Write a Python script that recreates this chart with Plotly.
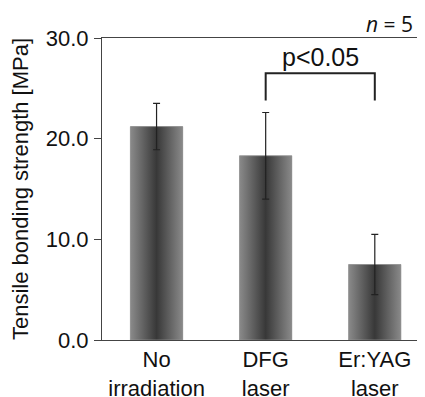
import plotly.graph_objects as go

categories = ["No<br>irradiation", "DFG<br>laser", "Er:YAG<br>laser"]
means = [21.2, 18.3, 7.5]
errors = [2.3, 4.3, 3.0]
y_ticks = [0, 10, 20, 30]
y_tick_labels = ["0.0", "10.0", "20.0", "30.0"]
compare_pair = (1, 2)
p_label = "p<0.05"
n_label = "<i>n</i> = 5"
y_title = "Tensile bonding strength [MPa]"

BAR_W = 0.48
FONT = "Liberation Sans, Arial, sans-serif"
xpos = list(range(len(categories)))

fig = go.Figure()

# base bars
fig.add_trace(go.Bar(x=xpos, y=means, width=BAR_W, marker=dict(color="#5a5a5a", line=dict(width=0)),
                     showlegend=False, hoverinfo="skip"))

# gradient overlay built from the data values
for i, m in zip(xpos, means):
    xs = [i - BAR_W / 2, i + BAR_W / 2, i + BAR_W / 2, i - BAR_W / 2, i - BAR_W / 2]
    ys = [0, 0, m, m, 0]
    fig.add_trace(go.Scatter(
        x=xs, y=ys, mode="lines", fill="toself",
        line=dict(width=0.6, color="#9a9a9a"),
        fillgradient=dict(type="horizontal",
                          colorscale=[[0, "#8a8a8a"], [0.5, "#383838"], [1, "#8a8a8a"]]),
        showlegend=False, hoverinfo="skip"))

# error bars
fig.add_trace(go.Scatter(
    x=xpos, y=means, mode="markers", marker=dict(size=1, opacity=0),
    error_y=dict(type="data", array=errors, visible=True, thickness=1.2, width=3.5, color="#222222"),
    showlegend=False, hoverinfo="skip"))

# significance bracket
a, b = compare_pair
y_low = max(means[a] + errors[a], means[b] + errors[b]) + 1.2
y_high = y_low + 2.7
fig.add_shape(type="path",
              path=f"M {a},{y_low} L {a},{y_high} L {b},{y_high} L {b},{y_low}",
              xref="x", yref="y", line=dict(color="#222222", width=2))
fig.add_annotation(x=(a + b) / 2, y=y_high, xref="x", yref="y", text=p_label,
                   showarrow=False, yanchor="bottom", yshift=0,
                   font=dict(family=FONT, size=25, color="#111111"))
fig.add_annotation(x=0.968, y=1.046, xref="paper", yref="paper", text=n_label,
                   showarrow=False, xanchor="right", yanchor="middle",
                   font=dict(family="Open Sans, sans-serif", size=21, color="#111111"))

# page body has an 8px default margin; size the figure so it fills the 425x397 window
fig.update_layout(
    width=417, height=389,
    margin=dict(l=94, r=0, t=30, b=57),
    paper_bgcolor="white", plot_bgcolor="white",
    font=dict(family=FONT, size=22, color="#111111"),
    showlegend=False,
    xaxis=dict(range=[-0.5, 2.46], tickvals=xpos, ticktext=categories,
               showline=True, mirror=True, linecolor="#444444", linewidth=1,
               ticks="", showgrid=False, zeroline=False, automargin=False,
               tickfont=dict(family=FONT, size=22)),
    yaxis=dict(range=[0, 30], tickvals=y_ticks, ticktext=y_tick_labels,
               showline=True, linecolor="#444444", linewidth=1,
               ticks="outside", ticklen=7, tickcolor="#444444",
               showgrid=False, zeroline=False, ticklabelstandoff=1,
               tickfont=dict(family=FONT, size=22),
               title=dict(text=y_title, font=dict(family=FONT, size=22), standoff=11)),
)

fig.write_html("out.html")
